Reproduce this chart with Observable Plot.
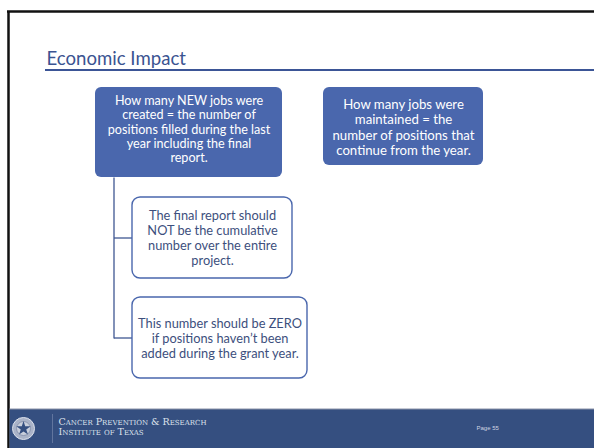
<!DOCTYPE html>
<html>
<head>
<meta charset="utf-8">
<script src="https://cdn.jsdelivr.net/npm/d3@7"></script>
<script src="https://cdn.jsdelivr.net/npm/@observablehq/plot@0.6"></script>
<style>
  html, body { margin: 0; padding: 0; background: #fff; overflow: hidden; }
</style>
</head>
<body>
<div id="chart"></div>
<script>
// ---- content ----
const title = "Economic Impact";
const parentTexts = [
  "How many NEW jobs were\ncreated = the number of\npositions filled during the last\nyear including the final\nreport.",
  "How many jobs were\nmaintained = the\nnumber of positions that\ncontinue from the year."
];
const childTexts = [
  "The final report should\nNOT be the cumulative\nnumber over the entire\nproject.",
  "This number should be ZERO\nif positions haven\u2019t been\nadded during the grant year."
];
const footerLines = ["Cancer Prevention & Research", "Institute of Texas"];
const pageLabel = "Page 55";

// ---- layout (slide coordinates) ----
const parentBoxes = parentTexts.map((t, i) => ({
  text: t,
  x1: [95, 323][i], x2: [282, 483][i],
  y1: [87, 87][i], y2: [177, 165][i],
  ty: [128.5, 126.5][i], fs: [12.6, 13.2][i], lh: [1.14, 1.16][i]
}));
const childBoxes = childTexts.map((t, i) => ({
  text: t,
  x1: [132, 132][i], x2: [292, 307][i],
  y1: [197, 297][i], y2: [278, 378][i],
  ty: [237, 337.7][i]
}));
const connectorX = 113.5;
const connectors = [
  {x1: connectorX, y1: 177, x2: connectorX, y2: 338},
  ...childBoxes.map(b => ({x1: connectorX, y1: (b.y1 + b.y2) / 2, x2: b.x1, y2: (b.y1 + b.y2) / 2}))
];

const blue = "#4a67ad";
const navy = "#354f80";
const sans = "Lato, 'Open Sans', sans-serif";

const plot = Plot.plot({
  width: 594,
  height: 448,
  margin: 0,
  x: {domain: [0, 594], axis: null},
  y: {domain: [0, 448], axis: null, reverse: true},
  style: {background: "#fff", fontFamily: sans},
  marks: [
    // slide border (top & left)
    Plot.ruleY([11], {x1: 7, x2: 594, stroke: "#111", strokeWidth: 2.5}),
    Plot.ruleX([8], {y1: 11, y2: 448, stroke: "#111", strokeWidth: 2.5}),
    // title
    Plot.text([title], {x: 46, y: 58.5, text: d => d, textAnchor: "start", fontSize: 18.6, fill: "#3a5391", fontFamily: sans}),
    Plot.ruleY([69.5], {x1: 45, x2: 594, stroke: "#3b5596", strokeWidth: 2}),
    // connectors
    Plot.link(connectors, {x1: "x1", y1: "y1", x2: "x2", y2: "y2", stroke: "#3f5792", strokeWidth: 1.3}),
    // parent boxes
    Plot.rect(parentBoxes, {x1: "x1", x2: "x2", y1: "y1", y2: "y2", fill: blue, rx: 6, ry: 6, insetTop: 0, insetBottom: 0, insetLeft: 0, insetRight: 0}),
    ...parentBoxes.map(b => Plot.text([b], {x: d => (d.x1 + d.x2) / 2, y: "ty", text: "text", fill: "#fff", fontSize: b.fs, lineHeight: b.lh, fontFamily: sans})),
    // child boxes
    Plot.rect(childBoxes, {x1: "x1", x2: "x2", y1: "y1", y2: "y2", fill: "#fff", stroke: blue, strokeWidth: 1.4, rx: 8, ry: 8, insetTop: 0, insetBottom: 0, insetLeft: 0, insetRight: 0}),
    Plot.text(childBoxes, {x: d => (d.x1 + d.x2) / 2, y: "ty", text: "text", fill: "#3d4f7d", fontSize: 12.8, lineHeight: 1.19, fontFamily: sans}),
    // footer
    Plot.rect([0], {x1: 9.5, x2: 594, y1: 409, y2: 448, fill: navy, insetTop: 0, insetBottom: 0, insetLeft: 0, insetRight: 0}),
    Plot.ruleY([408.5], {x1: 9.5, x2: 594, stroke: "#8b93a8", strokeWidth: 1}),
    Plot.ruleX([52], {y1: 414, y2: 443, stroke: "#6d7fa6", strokeWidth: 0.8}),
    Plot.dot([0], {x: 23, y: 428, r: 11, fill: "#aab3c8", stroke: "#dde2ec", strokeWidth: 1}),
    Plot.dot([0], {x: 23, y: 428, r: 7, fill: "#c9cfdc", stroke: "#7f8aa6", strokeWidth: 0.8}),
    Plot.dot([0], {x: 23, y: 428, r: 4.5, symbol: "star", fill: "#354f80"}),
    Plot.text(footerLines, {x: 58, y: (d, i) => [421, 431.5][i], text: d => d, textAnchor: "start", fontSize: 9.5, fontVariant: "small-caps", fill: "#dde2ec", fontFamily: "'DejaVu Serif', serif"}),
    Plot.text([pageLabel], {x: 476, y: 428, text: d => d, textAnchor: "start", fontSize: 6, fill: "#cfd5e2", fontFamily: "'Liberation Sans', Arial, sans-serif"})
  ]
});
document.getElementById("chart").appendChild(plot);
</script>
</body>
</html>
